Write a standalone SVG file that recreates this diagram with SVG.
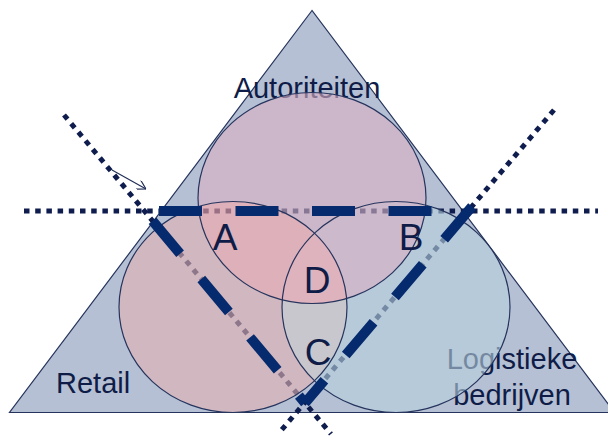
<svg xmlns="http://www.w3.org/2000/svg" width="608" height="438" viewBox="0 0 608 438">
<style>
.lbl{font-family:"Liberation Sans",Arial,sans-serif;fill:#0f1c47}
.big{font-size:29px}
.let{font-size:37px;text-anchor:middle}
.dot{fill:none;stroke:#0e1d4d;stroke-width:5;stroke-dasharray:5.5 5.7}
.thick{fill:none;stroke:#062a6e;stroke-width:10;stroke-dasharray:43 33}
.ring{fill:none;stroke:#26345d;stroke-width:1.2}
</style>
<defs>
<clipPath id="cL"><ellipse cx="233" cy="307" rx="114" ry="105.5"/></clipPath>
<clipPath id="cR"><ellipse cx="396" cy="307" rx="114" ry="105.5"/></clipPath>
<clipPath id="cT"><ellipse cx="312" cy="198" rx="114" ry="105.5"/></clipPath>
<marker id="arr" viewBox="0 0 10 10" refX="10" refY="5" markerWidth="10" markerHeight="10" markerUnits="userSpaceOnUse" orient="auto">
<path d="M1.3,0 L10,5 L1.3,10" fill="none" stroke="#1f2c55" stroke-width="1.1"/>
</marker>
</defs>
<g id="triangle">
<polygon points="312,10.5 9.5,412.5 614.5,412.5" fill="#b5c0d4" stroke="#26345d" stroke-width="1.2"/>
</g>
<g id="connectors-dotted">
<path class="dot" d="M24,211 H598"/>
<path class="dot" d="M64,115 L331,434"/>
<path class="dot" d="M554,110 L279,433"/>
<path d="M112,170 L146,189" fill="none" stroke="#1f2c55" stroke-width="1.1" marker-end="url(#arr)"/>
</g>
<g id="node-labels">
<text class="lbl big" x="307" y="98" text-anchor="middle">Autoriteiten</text>
<text class="lbl big" x="56" y="393">Retail</text>
<text class="lbl big" x="512" y="369" text-anchor="middle">Logistieke</text>
<text class="lbl big" x="512" y="405" text-anchor="middle">bedrijven</text>
</g>
<g id="circle-fills" opacity="0.6">
<ellipse cx="233" cy="307" rx="114" ry="105.5" fill="#e4b4b4"/>
<ellipse cx="396" cy="307" rx="114" ry="105.5" fill="#b8d1de"/>
<ellipse cx="396" cy="307" rx="114" ry="105.5" fill="#d5cdca" clip-path="url(#cL)"/>
<ellipse cx="312" cy="198" rx="114" ry="105.5" fill="#dab1c5"/>
<ellipse cx="312" cy="198" rx="114" ry="105.5" fill="#f8a7a9" clip-path="url(#cL)"/>
<ellipse cx="312" cy="198" rx="114" ry="105.5" fill="#ddb6c7" clip-path="url(#cR)"/>
<g clip-path="url(#cT)"><ellipse cx="396" cy="307" rx="114" ry="105.5" fill="#fbacaf" clip-path="url(#cL)"/></g>
</g>
<g id="node-retail"><ellipse class="ring" cx="233" cy="307" rx="114" ry="105.5"/></g>
<g id="node-logistiek"><ellipse class="ring" cx="396" cy="307" rx="114" ry="105.5"/></g>
<g id="node-autoriteiten"><ellipse class="ring" cx="312" cy="198" rx="114" ry="105.5"/></g>
<g id="connectors-dashed">
<path class="thick" d="M159,211 H464" style="stroke-dasharray:43 33.5"/>
<path class="thick" d="M152.5,220.8 L305,403"/>
<path class="thick" d="M472,206.4 L305,403"/>
</g>
<g id="region-labels">
<text class="lbl let" x="225" y="250">A</text>
<text class="lbl let" x="411" y="250">B</text>
<text class="lbl let" x="317" y="293">D</text>
<text class="lbl let" x="318" y="365">C</text>
</g>
</svg>
